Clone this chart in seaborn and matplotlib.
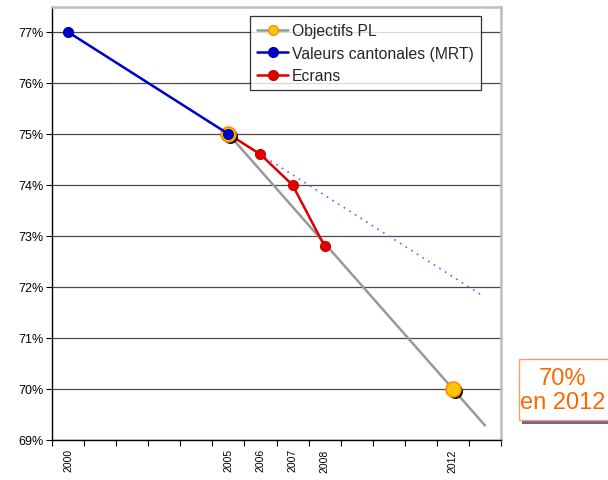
import matplotlib
matplotlib.use("Agg")
import numpy as np
import pandas as pd
import seaborn as sns
import matplotlib.pyplot as plt
import matplotlib.transforms as mtransforms
from matplotlib.lines import Line2D
from matplotlib.patches import Rectangle

# ---------------- data ----------------
years = list(range(2000, 2014))
year_labels = ['2000', '', '', '', '', '2005', '2006', '2007', '2008', '', '', '', '2012', '']
obj_years = [2005, 2012]
obj_values = [75.0, 70.0]
cant_years = [2000, 2005]
cant_values = [77.0, 75.0]
ecran_years = [2005, 2006, 2007, 2008]
ecran_values = [75.0, 74.6, 74.0, 72.8]
y_ticks = [69, 70, 71, 72, 73, 74, 75, 76, 77]
y_tick_labels = [f"{v}%" for v in y_ticks]
legend_labels = ['Objectifs PL', 'Valeurs cantonales (MRT)', 'Ecrans']
note_text = "70%\nen 2012"


def pos(ys):
    return [years.index(y) for y in ys]


sns.set_theme(style="white")
plt.rcParams['font.family'] = ['Liberation Sans', 'DejaVu Sans']

W, H = 608, 481
fig = plt.figure(figsize=(W / 100, H / 100), dpi=100)
ax = fig.add_axes([52 / W, 1 - 441 / H, 449 / W, 433 / H])

obj_x = pos(obj_years)
cant_x = pos(cant_years)
ecr_x = pos(ecran_years)

# trendlines (linear fits extended forward)
cf = np.polyfit(cant_x, cant_values, 1)
tx = np.array([cant_x[0], 12.9])
sns.lineplot(x=tx, y=np.polyval(cf, tx), ax=ax, color='#4a6cf7', lw=1.2,
             linestyle=(0, (1, 3)), zorder=2)

of = np.polyfit(obj_x, obj_values, 1)
ox = np.array([obj_x[0], 13.0])
sns.lineplot(x=ox, y=np.polyval(of, ox), ax=ax, color='#999999', lw=1.8, zorder=3)

# Ecrans
sns.lineplot(x=ecr_x, y=ecran_values, ax=ax, color='#dd0000', lw=1.8, marker='o',
             markersize=7.2, markeredgecolor='#cc0000', markeredgewidth=0.8, zorder=4)

# Objectifs markers with shadow
shadow_tr = mtransforms.offset_copy(ax.transData, fig=fig, x=2, y=-2, units='dots')
ax.scatter(obj_x, obj_values, s=115, color='black', transform=shadow_tr, zorder=5, lw=0)
ax.scatter(obj_x, obj_values, s=115, color='#FFC800', edgecolor='#FF8C00', lw=1.2, zorder=6)

# Valeurs cantonales
sns.lineplot(x=cant_x, y=cant_values, ax=ax, color='#0000cc', lw=1.8, marker='o',
             markersize=7.2, markeredgecolor='#0000aa', markeredgewidth=0.8, zorder=7)

# axes
ax.set_xlim(-0.5, 13.5)
ax.set_ylim(69, 69 + 433 / 51)
ax.set_yticks(y_ticks)
ax.set_yticklabels(y_tick_labels, fontsize=9, color='black')
ax.set_xticks(range(len(years)))
ax.set_xticklabels(year_labels, rotation=90, fontsize=7.5, color='black')
ax.set_xticks(np.arange(-0.5, 14, 1), minor=True)
ax.tick_params(axis='x', which='major', length=0, pad=6)
ax.tick_params(axis='x', which='minor', length=4, direction='out', color='black', width=0.8, bottom=True)
ax.tick_params(axis='y', which='major', length=4, direction='out', color='black', width=0.8, left=True, pad=2)
ax.yaxis.grid(True, color='#4a4a4a', lw=0.9)
ax.xaxis.grid(False)
ax.set_axisbelow(True)
for s in ['left', 'bottom']:
    ax.spines[s].set_color('black')
    ax.spines[s].set_linewidth(1.0)
for s in ['top', 'right']:
    ax.spines[s].set_color('#bdbdbd')
    ax.spines[s].set_linewidth(1.8)
ax.set_xlabel('')
ax.set_ylabel('')

# legend
handles = [
    Line2D([], [], color='#999999', lw=1.8, marker='o', markersize=7,
           markerfacecolor='#FFC800', markeredgecolor='#FF8C00'),
    Line2D([], [], color='#0000cc', lw=1.8, marker='o', markersize=7,
           markerfacecolor='#0000cc', markeredgecolor='#0000aa'),
    Line2D([], [], color='#dd0000', lw=1.8, marker='o', markersize=7,
           markerfacecolor='#dd0000', markeredgecolor='#cc0000'),
]
leg = fig.legend(handles, legend_labels, loc='upper right',
                 bbox_to_anchor=(481 / W, 1 - 17 / H), bbox_transform=fig.transFigure,
                 fontsize=11.3, frameon=True, fancybox=False, borderaxespad=0,
                 handlelength=2.0, handletextpad=0.25, labelspacing=0.48,
                 borderpad=0.45)
leg.get_frame().set_edgecolor('black')
leg.get_frame().set_linewidth(0.9)

# note box with shadow
fig.patches.append(Rectangle((522 / W, 1 - 425 / H), 100 / W, 62 / H, transform=fig.transFigure,
                             facecolor='#6b6b9e', edgecolor='none', zorder=1))
fig.patches.append(Rectangle((519 / W, 1 - 421 / H), 100 / W, 61 / H, transform=fig.transFigure,
                             facecolor='white', edgecolor='#FF9966', lw=1.0, zorder=2))
fig.text(563 / W, 1 - 391 / H, note_text, ha='center', va='center', fontsize=17,
         color='#FF6600', linespacing=1.08, zorder=3)

fig.savefig('out.png', dpi=100)
